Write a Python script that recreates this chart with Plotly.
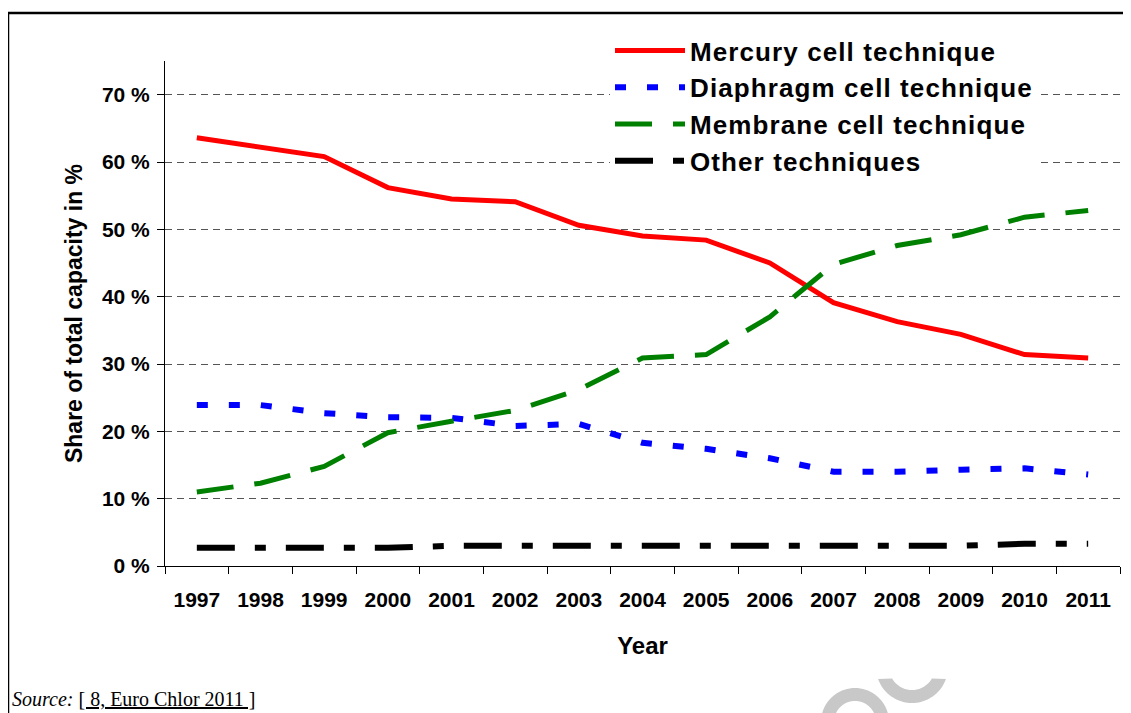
import math
import plotly.graph_objects as go

years = ["1997", "1998", "1999", "2000", "2001", "2002", "2003", "2004",
         "2005", "2006", "2007", "2008", "2009", "2010", "2011"]
mercury = [63.6, 62.2, 60.8, 56.2, 54.5, 54.1, 50.6, 49.0, 48.4, 45.0, 39.1, 36.3, 34.4, 31.4, 30.9]
diaphragm = [23.9, 23.9, 22.7, 22.1, 22.0, 20.8, 21.1, 18.3, 17.4, 16.0, 14.0, 14.0, 14.3, 14.5, 13.6]
membrane = [11.0, 12.3, 14.8, 19.8, 21.5, 23.1, 26.2, 30.9, 31.4, 37.0, 44.8, 47.6, 49.2, 51.8, 52.8]
other = [2.7, 2.7, 2.7, 2.7, 3.0, 3.0, 3.0, 3.0, 3.0, 3.0, 3.0, 3.0, 3.0, 3.3, 3.3]
series_names = ["Mercury cell technique", "Diaphragm cell technique",
                "Membrane cell technique", "Other techniques"]
y_ticks = [0, 10, 20, 30, 40, 50, 60, 70]
y_ticktext = [f"{v} %" for v in y_ticks]

OFF = 8  # browser body margin compensation
W, H = 1131, 713
# plot area in reference-image pixels
L, R, T, B = 165, 1120, 61, 566


def px(x):
    return (x - L) / (R - L)


def py(y):
    return (B - y) / (B - T)


FONT = "Liberation Sans, Arial, sans-serif"

fig = go.Figure()
styles = [
    dict(color="#ff0000", width=5, dash="solid"),
    dict(color="#0000ff", width=6, dash="11px,21px"),
    dict(color="#008000", width=5, dash="37px,21px"),
    dict(color="#000000", width=6, dash="38px,20px,11px,20px"),
]
for name, vals, st in zip(series_names, [mercury, diaphragm, membrane, other], styles):
    fig.add_trace(go.Scatter(x=years, y=vals, mode="lines", line=st, name=name))

# give the legend labels the slightly wider spacing of the original
for tr in fig.data:
    tr.name = f'<span style="letter-spacing:1.1px">{tr.name}</span>'

shapes = [
    dict(type="line", xref="paper", yref="paper", x0=px(8), x1=px(1145), y0=py(13), y1=py(13),
         line=dict(color="black", width=2.5)),
    dict(type="line", xref="paper", yref="paper", x0=px(8), x1=px(8), y0=py(13), y1=py(730),
         line=dict(color="black", width=2.5)),
]


def ring_path(cx, cy, r_out, r_in, a0, a1, b0, b1, n=40):
    pts = []
    for i in range(n + 1):
        a = math.radians(a0 + (a1 - a0) * i / n)
        pts.append((cx + r_out * math.cos(a), cy + r_out * math.sin(a)))
    for i in range(n + 1):
        a = math.radians(b1 + (b0 - b1) * i / n)
        pts.append((cx + r_in * math.cos(a), cy + r_in * math.sin(a)))
    return "M " + " L ".join(f"{px(x):.5f},{py(y):.5f}" for x, y in pts) + " Z"


# faint watermark arcs at the bottom
shapes.append(dict(type="path", xref="paper", yref="paper", layer="above",
                   path=ring_path(855, 722, 34, 21, 180, 360, 180, 360),
                   fillcolor="#c8c8c8", line=dict(width=0)))
shapes.append(dict(type="path", xref="paper", yref="paper", layer="above",
                   path=ring_path(912, 667, 36, 23, 19.5, 160.5, 30, 150),
                   fillcolor="#c8c8c8", line=dict(width=0)))

fig.update_layout(
    width=W, height=H,
    margin=dict(l=L - OFF, r=W - R + OFF, t=T - OFF, b=H - B + OFF, pad=0),
    paper_bgcolor="white", plot_bgcolor="white",
    font=dict(family=FONT, size=21, color="black"),
    showlegend=True,
    legend=dict(x=px(610), y=py(27), xanchor="left", yanchor="top",
                bgcolor="white", borderwidth=0, itemwidth=70,
                font=dict(family=FONT, size=26, color="black", weight="bold"),
                tracegroupgap=0, itemclick=False),
    shapes=shapes,
    annotations=[
        dict(text="<i>Source:</i> <u>[ 8, Euro Chlor 2011 ]</u>", xref="paper", yref="paper",
             x=px(10), y=py(699), xanchor="left", yanchor="middle", showarrow=False,
             font=dict(family="Liberation Serif, Times New Roman, serif", size=20, color="black")),
    ],
)
fig.update_xaxes(
    type="category", range=[-0.5, len(years) - 0.5],
    showline=True, linecolor="black", linewidth=1,
    ticks="outside", ticklen=7, tickcolor="black", tickson="boundaries",
    showgrid=False, zeroline=False, ticklabelstandoff=15,
    tickfont=dict(family=FONT, size=21, weight="bold"),
    title=dict(text="<b>Year</b>", font=dict(family=FONT, size=24), standoff=26),
)
fig.update_yaxes(
    range=[0, 75], showline=True, linecolor="black", linewidth=1,
    ticks="outside", ticklen=7, tickcolor="black", ticklabelstandoff=3,
    tickvals=y_ticks, ticktext=y_ticktext,
    tickfont=dict(family=FONT, size=21, weight="bold"),
    showgrid=True, gridcolor="#555555", gridwidth=1, griddash="7px,5px",
    zeroline=False,
    title=dict(text="<b>Share of total capacity in %</b>", font=dict(family=FONT, size=23), standoff=12),
)

fig.write_html("out.html")
